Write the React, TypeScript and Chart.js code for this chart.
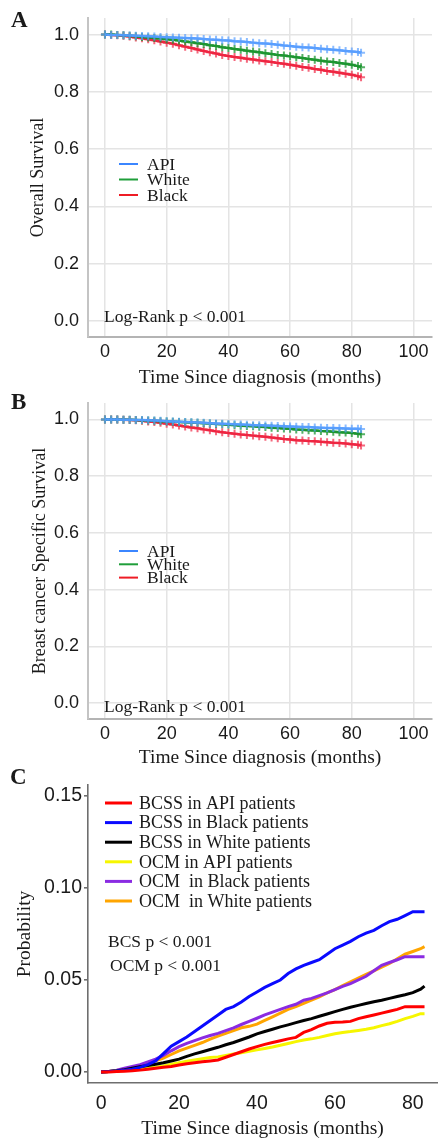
import React, { useEffect, useRef } from "react";
import { Chart, registerables } from "chart.js";
Chart.register(...registerables);

const SERIF = '"Liberation Serif", "Times New Roman", serif';
const SANS = '"Liberation Sans", Arial, sans-serif';

// Time points (months)
const months = [0, 2, 4, 6, 8, 10, 12, 14, 16, 18, 20, 22, 24, 26, 28, 30, 32, 34, 36, 38, 40, 42, 44, 46, 48, 50, 52, 54, 56, 58, 60, 62, 64, 66, 68, 70, 72, 74, 76, 78, 80, 82, 83];

// Panel A: Overall survival
const osApi = [1.000, 0.999, 0.999, 0.998, 0.997, 0.996, 0.995, 0.994, 0.993, 0.992, 0.991, 0.990, 0.989, 0.988, 0.987, 0.986, 0.985, 0.983, 0.982, 0.980, 0.979, 0.977, 0.976, 0.974, 0.972, 0.970, 0.969, 0.967, 0.965, 0.962, 0.960, 0.958, 0.956, 0.955, 0.953, 0.951, 0.949, 0.947, 0.945, 0.943, 0.941, 0.939, 0.937];
const osWhite = [1.000, 1.000, 0.999, 0.998, 0.996, 0.994, 0.992, 0.990, 0.988, 0.986, 0.984, 0.982, 0.979, 0.976, 0.973, 0.970, 0.967, 0.963, 0.960, 0.956, 0.953, 0.950, 0.947, 0.944, 0.941, 0.938, 0.935, 0.932, 0.929, 0.927, 0.924, 0.921, 0.918, 0.915, 0.912, 0.909, 0.906, 0.904, 0.901, 0.898, 0.895, 0.890, 0.886];
const osBlack = [1.000, 0.999, 0.998, 0.996, 0.993, 0.990, 0.987, 0.984, 0.980, 0.976, 0.972, 0.968, 0.963, 0.958, 0.953, 0.948, 0.943, 0.938, 0.934, 0.929, 0.925, 0.922, 0.919, 0.916, 0.913, 0.910, 0.907, 0.904, 0.901, 0.898, 0.895, 0.891, 0.887, 0.884, 0.880, 0.877, 0.873, 0.870, 0.867, 0.863, 0.860, 0.855, 0.851];

// Panel B: Breast cancer specific survival
const bcsApi = [1.000, 1.000, 1.000, 0.999, 0.999, 0.998, 0.998, 0.997, 0.996, 0.995, 0.994, 0.993, 0.992, 0.991, 0.990, 0.989, 0.988, 0.987, 0.986, 0.985, 0.984, 0.983, 0.982, 0.981, 0.980, 0.980, 0.979, 0.978, 0.977, 0.976, 0.975, 0.974, 0.973, 0.973, 0.972, 0.971, 0.970, 0.970, 0.969, 0.968, 0.967, 0.967, 0.966];
const bcsWhite = [1.000, 1.000, 1.000, 0.999, 0.999, 0.998, 0.997, 0.996, 0.995, 0.994, 0.993, 0.992, 0.991, 0.990, 0.989, 0.988, 0.987, 0.986, 0.984, 0.983, 0.981, 0.980, 0.978, 0.977, 0.976, 0.974, 0.973, 0.971, 0.970, 0.968, 0.967, 0.965, 0.964, 0.962, 0.961, 0.959, 0.958, 0.957, 0.955, 0.954, 0.952, 0.950, 0.948];
const bcsBlack = [1.000, 1.000, 1.000, 0.999, 0.998, 0.997, 0.995, 0.993, 0.991, 0.988, 0.985, 0.982, 0.979, 0.975, 0.972, 0.969, 0.965, 0.962, 0.958, 0.955, 0.952, 0.950, 0.947, 0.945, 0.943, 0.941, 0.939, 0.936, 0.934, 0.931, 0.929, 0.927, 0.926, 0.924, 0.923, 0.921, 0.920, 0.918, 0.917, 0.915, 0.913, 0.911, 0.908];

// Panel C: cumulative incidence
const cBcssApi = [0, 0, 0.0002, 0.0004, 0.0006, 0.001, 0.0015, 0.002, 0.0025, 0.003, 0.0038, 0.0045, 0.005, 0.0055, 0.006, 0.0065, 0.008, 0.0095, 0.011, 0.0125, 0.0138, 0.015, 0.016, 0.017, 0.018, 0.0188, 0.0215, 0.023, 0.025, 0.0265, 0.027, 0.0272, 0.0275, 0.029, 0.030, 0.031, 0.032, 0.033, 0.034, 0.0355, 0.0355, 0.0355, 0.0355];
const cBcssBlack = [0, 0.0002, 0.0005, 0.001, 0.0015, 0.0025, 0.004, 0.006, 0.010, 0.014, 0.0165, 0.019, 0.022, 0.025, 0.028, 0.031, 0.034, 0.0355, 0.038, 0.041, 0.0435, 0.046, 0.048, 0.050, 0.0535, 0.056, 0.058, 0.0595, 0.061, 0.064, 0.067, 0.069, 0.071, 0.0735, 0.0755, 0.077, 0.0795, 0.0817, 0.083, 0.085, 0.0871, 0.0871, 0.0871];
const cBcssWhite = [0, 0.0003, 0.0007, 0.0012, 0.002, 0.0028, 0.0035, 0.0042, 0.005, 0.006, 0.007, 0.0085, 0.0098, 0.011, 0.0122, 0.0134, 0.0148, 0.016, 0.0175, 0.019, 0.0207, 0.022, 0.0232, 0.0245, 0.0256, 0.0268, 0.028, 0.029, 0.0303, 0.0315, 0.0328, 0.034, 0.0352, 0.0362, 0.0372, 0.0382, 0.039, 0.040, 0.041, 0.042, 0.0431, 0.045, 0.0467];
const cOcmApi = [0, 0.0002, 0.0005, 0.0008, 0.0012, 0.0016, 0.002, 0.0026, 0.0033, 0.0042, 0.005, 0.0058, 0.0065, 0.0072, 0.0078, 0.0082, 0.009, 0.0098, 0.0105, 0.0112, 0.012, 0.0128, 0.0136, 0.0145, 0.0155, 0.0165, 0.0174, 0.018, 0.0188, 0.0198, 0.0208, 0.0215, 0.022, 0.0226, 0.0232, 0.024, 0.0252, 0.0262, 0.0275, 0.029, 0.0302, 0.0317, 0.0317];
const cOcmBlack = [0, 0.0003, 0.001, 0.002, 0.003, 0.004, 0.0055, 0.007, 0.009, 0.0115, 0.0138, 0.0155, 0.017, 0.0185, 0.0198, 0.021, 0.0225, 0.024, 0.0258, 0.0275, 0.0292, 0.031, 0.0325, 0.034, 0.0355, 0.0368, 0.039, 0.040, 0.0415, 0.043, 0.0448, 0.0465, 0.048, 0.050, 0.052, 0.055, 0.058, 0.0595, 0.061, 0.0627, 0.0627, 0.0627, 0.0627];
const cOcmWhite = [0, 0.0003, 0.0008, 0.0015, 0.0025, 0.0035, 0.0048, 0.006, 0.0075, 0.0095, 0.0115, 0.013, 0.0145, 0.016, 0.0178, 0.0195, 0.021, 0.0225, 0.024, 0.0248, 0.026, 0.028, 0.030, 0.032, 0.034, 0.0355, 0.0373, 0.039, 0.0408, 0.043, 0.0448, 0.047, 0.049, 0.051, 0.053, 0.055, 0.057, 0.059, 0.0615, 0.064, 0.0655, 0.067, 0.0681];

// Labels and ticks
const raceLabels = ["API", "White", "Black"];
const cLabels = ["BCSS in API patients", "BCSS in Black patients", "BCSS in White patients", "OCM in API patients", "OCM  in Black patients", "OCM  in White patients"];
const xTicksAB = [0, 20, 40, 60, 80, 100];
const xTickLabelsAB = ["0", "20", "40", "60", "80", "100"];
const yTicksAB = [0, 0.2, 0.4, 0.6, 0.8, 1.0];
const yTickLabelsAB = ["0.0", "0.2", "0.4", "0.6", "0.8", "1.0"];
const xTicksC = [0, 20, 40, 60, 80];
const xTickLabelsC = ["0", "20", "40", "60", "80"];
const yTicksC = [0, 0.05, 0.1, 0.15];
const yTickLabelsC = ["0.00", "0.05", "0.10", "0.15"];

const pts = (ys: number[]) => months.map((m, i) => ({ x: m, y: ys[i] }));

const overlayPlugin = {
  id: "overlay",
  afterDraw(chart: any, _args: any, opts: any) {
    const ctx = chart.ctx;
    ctx.save();
    ctx.textAlign = "left";
    ctx.textBaseline = "middle";
    (opts.texts || []).forEach((t: any) => {
      ctx.font = t.font;
      ctx.fillStyle = t.color || "#1a1a1a";
      ctx.fillText(t.text, t.x, t.y);
    });
    const lg = opts.legend;
    if (lg) {
      chart.data.datasets.forEach((ds: any, i: number) => {
        const y = lg.y + i * lg.dy;
        ctx.strokeStyle = ds.legendColor || ds.borderColor;
        ctx.lineWidth = lg.lineWidth;
        ctx.beginPath();
        ctx.moveTo(lg.x, y);
        ctx.lineTo(lg.x + lg.len, y);
        ctx.stroke();
        ctx.font = lg.font;
        ctx.fillStyle = "#1a1a1a";
        ctx.fillText(ds.label, lg.x + lg.len + lg.gap, y + lg.textDy);
      });
    }
    ctx.restore();
  },
};

function kmDataset(label: string, ys: number[], line: string, mark: string, legendColor: string) {
  return {
    label,
    data: pts(ys),
    borderColor: line,
    legendColor,
    borderWidth: 2.5,
    pointStyle: "cross",
    pointRadius: 4,
    pointBorderWidth: 2,
    pointBorderColor: mark,
    pointBackgroundColor: mark,
    tension: 0,
    fill: false,
  };
}

function survivalConfig(p: any) {
  const grid = "#e4e4e4";
  return {
    type: "line",
    data: {
      datasets: [
        kmDataset(raceLabels[0], p.api, "rgba(70,145,255,0.9)", "rgba(90,160,255,0.7)", "#3b86ff"),
        kmDataset(raceLabels[1], p.white, "rgba(20,145,40,0.95)", "rgba(30,150,50,0.75)", "#1f9e3a"),
        kmDataset(raceLabels[2], p.black, "rgba(235,20,45,0.95)", "rgba(240,40,70,0.7)", "#ee1c25"),
      ],
    },
    options: {
      animation: false,
      responsive: false,
      events: [],
      layout: { padding: { top: p.padTop, right: 1, left: 0, bottom: 0 } },
      plugins: {
        legend: { display: false },
        tooltip: { enabled: false },
        overlay: {
          texts: [
            { text: p.letter, x: 11, y: p.letterY, font: `bold 23px ${SERIF}` },
            { text: "Log-Rank p < 0.001", x: 104, y: p.logY, font: `17.5px ${SERIF}` },
          ],
          legend: { x: 119, y: p.legY, dy: p.legDy, len: 19, gap: 9, lineWidth: 2, textDy: 1, font: `17.5px ${SERIF}` },
        },
      },
      scales: {
        x: {
          type: "linear",
          min: -5.5,
          max: 106,
          afterBuildTicks: (s: any) => { s.ticks = xTicksAB.map((v) => ({ value: v })); },
          afterFit: (s: any) => { s.height = p.xH; s.paddingLeft = 0; s.paddingRight = 0; },
          ticks: { callback: (_v: any, i: number) => xTickLabelsAB[i], font: { family: SANS, size: 18 }, color: "#1a1a1a", padding: 4, maxRotation: 0 },
          grid: { color: grid, lineWidth: 1.5, drawTicks: false },
          border: { display: true, color: "#b4b4b4", width: 2 },
          title: { display: true, text: "Time Since diagnosis (months)", font: { family: SERIF, size: 19.5, lineHeight: 1.2 }, color: "#1a1a1a", padding: { top: 0, bottom: p.xTitlePad } },
        },
        y: {
          type: "linear",
          min: -0.056,
          max: 1.058,
          afterBuildTicks: (s: any) => { s.ticks = yTicksAB.map((v) => ({ value: v })); },
          afterFit: (s: any) => { s.width = 88; s.paddingTop = 0; s.paddingBottom = 0; },
          ticks: { callback: (_v: any, i: number) => yTickLabelsAB[i], font: { family: SANS, size: 18 }, color: "#1a1a1a", padding: 9 },
          grid: { color: grid, lineWidth: 1.5, drawTicks: false },
          border: { display: true, color: "#c4c4c4", width: 2 },
          title: { display: true, text: p.yTitle, font: { family: SERIF, size: 18, lineHeight: 1.2 }, color: "#1a1a1a", padding: { top: p.yTitlePad, bottom: 0 } },
        },
      },
    },
    plugins: [overlayPlugin],
  };
}

function cifDataset(label: string, ys: number[], color: string) {
  return {
    label,
    data: pts(ys),
    borderColor: color,
    legendColor: color,
    borderWidth: 3,
    pointRadius: 0,
    tension: 0,
    fill: false,
  };
}

function cifConfig() {
  const axis = "#6e6e6e";
  return {
    type: "line",
    data: {
      datasets: [
        cifDataset(cLabels[0], cBcssApi, "#ff0000"),
        cifDataset(cLabels[1], cBcssBlack, "#0a0aff"),
        cifDataset(cLabels[2], cBcssWhite, "#000000"),
        cifDataset(cLabels[3], cOcmApi, "#f6f600"),
        cifDataset(cLabels[4], cOcmBlack, "#8a2be2"),
        cifDataset(cLabels[5], cOcmWhite, "#ffa500"),
      ],
    },
    options: {
      animation: false,
      responsive: false,
      events: [],
      layout: { padding: { top: 20, right: 1, left: 0, bottom: 0 } },
      plugins: {
        legend: { display: false },
        tooltip: { enabled: false },
        overlay: {
          texts: [
            { text: "C", x: 10, y: 13, font: `bold 23px ${SERIF}` },
            { text: "BCS p < 0.001", x: 108, y: 177, font: `17.5px ${SERIF}` },
            { text: "OCM p < 0.001", x: 110, y: 201, font: `17.5px ${SERIF}` },
          ],
          legend: { x: 105, y: 38, dy: 19.6, len: 27, gap: 7, lineWidth: 3, textDy: 1, font: `18px ${SERIF}` },
        },
      },
      scales: {
        x: {
          type: "linear",
          min: -3.35,
          max: 86.2,
          afterBuildTicks: (s: any) => { s.ticks = xTicksC.map((v) => ({ value: v })); },
          afterFit: (s: any) => { s.height = 59; s.paddingLeft = 0; s.paddingRight = 0; },
          ticks: { callback: (_v: any, i: number) => xTickLabelsC[i], font: { family: SANS, size: 19.5 }, color: "#1a1a1a", padding: 9, maxRotation: 0 },
          grid: { display: true, drawOnChartArea: false, drawTicks: false, color: axis },
          border: { display: true, color: axis, width: 1.6 },
          title: { display: true, text: "Time Since diagnosis (months)", font: { family: SERIF, size: 19.5, lineHeight: 1.2 }, color: "#1a1a1a", padding: { top: 0, bottom: 1 } },
        },
        y: {
          type: "linear",
          min: -0.006,
          max: 0.156,
          afterBuildTicks: (s: any) => { s.ticks = yTicksC.map((v) => ({ value: v })); },
          afterFit: (s: any) => { s.width = 88; s.paddingTop = 0; s.paddingBottom = 0; },
          ticks: { callback: (_v: any, i: number) => yTickLabelsC[i], font: { family: SANS, size: 19.5 }, color: "#1a1a1a", padding: 2 },
          grid: { display: true, drawOnChartArea: false, drawTicks: true, tickLength: 4, color: axis, lineWidth: 1.6 },
          border: { display: true, color: axis, width: 1.6 },
          title: { display: true, text: "Probability", font: { family: SERIF, size: 19.5, lineHeight: 1.2 }, color: "#1a1a1a", padding: { top: 13, bottom: 0 } },
        },
      },
    },
    plugins: [overlayPlugin],
  };
}

export default function App() {
  const aRef = useRef<HTMLCanvasElement>(null);
  const bRef = useRef<HTMLCanvasElement>(null);
  const cRef = useRef<HTMLCanvasElement>(null);

  useEffect(() => {
    const charts: Chart[] = [];
    if (aRef.current) {
      charts.push(new Chart(aRef.current, survivalConfig({
        api: osApi, white: osWhite, black: osBlack,
        letter: "A", letterY: 21, logY: 317, legY: 164, legDy: 15.5,
        padTop: 18, xH: 53, xTitlePad: 0, yTitle: "Overall Survival", yTitlePad: 27,
      }) as any));
    }
    if (bRef.current) {
      charts.push(new Chart(bRef.current, survivalConfig({
        api: bcsApi, white: bcsWhite, black: bcsBlack,
        letter: "B", letterY: 18, logY: 322, legY: 166, legDy: 13.3,
        padTop: 18, xH: 56, xTitlePad: 5, yTitle: "Breast cancer Specific Survival", yTitlePad: 29,
      }) as any));
    }
    if (cRef.current) {
      charts.push(new Chart(cRef.current, cifConfig() as any));
    }
    return () => charts.forEach((c) => c.destroy());
  }, []);

  return (
    <div style={{ position: "absolute", left: 0, top: 0, width: 438, height: 1142, background: "#ffffff", overflow: "hidden" }}>
      <canvas ref={aRef} width={438} height={390} style={{ position: "absolute", left: 0, top: 0, width: 438, height: 390 }} />
      <canvas ref={bRef} width={438} height={390} style={{ position: "absolute", left: 0, top: 385, width: 438, height: 390 }} />
      <canvas ref={cRef} width={438} height={377} style={{ position: "absolute", left: 0, top: 765, width: 438, height: 377 }} />
    </div>
  );
}
